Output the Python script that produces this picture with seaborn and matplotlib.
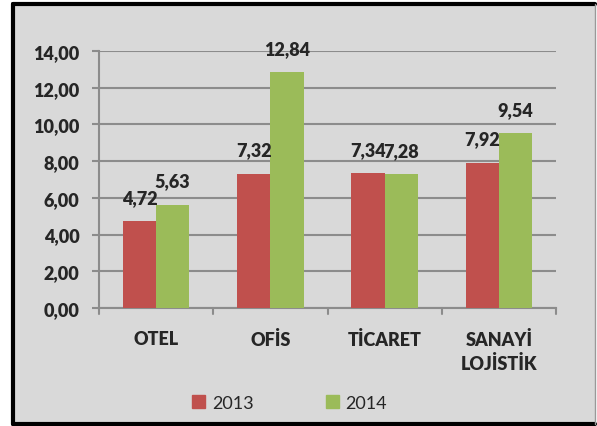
import pandas as pd
import matplotlib
matplotlib.use("Agg")
import matplotlib.pyplot as plt
import seaborn as sns
from matplotlib.patches import Rectangle
from matplotlib.lines import Line2D

# values
categories = ["OTEL", "OFİS", "TİCARET", "SANAYİ\nLOJİSTİK"]
years = ["2013", "2014"]
values_2013 = [4.72, 7.32, 7.34, 7.92]
values_2014 = [5.63, 12.84, 7.28, 9.54]
yticks = [0, 2, 4, 6, 8, 10, 12, 14]

df = pd.DataFrame({
    "kategori": categories * 2,
    "yil": [years[0]] * 4 + [years[1]] * 4,
    "deger": values_2013 + values_2014,
})

sns.set_style("white")
plt.rcParams["font.family"] = ["Lato", "DejaVu Sans"]

bg = "#D9D9D9"
grid_col = "#8C8C8C"
palette = {"2013": "#C0504D", "2014": "#9BBB59"}
fw = "heavy"

fig = plt.figure(figsize=(5.97, 4.27), dpi=100)
fig.patch.set_facecolor("white")

# outer frame like the excel chart area
fig.patches.append(Rectangle((13 / 597, 2 / 427), 582 / 597, 420 / 427,
                             transform=fig.transFigure, facecolor=bg,
                             edgecolor="none", zorder=-10))
x0, x1, y0, y1 = 13 / 597, 595 / 597, 1 - 425 / 427, 1 - 5 / 427
for xs, ys, c, lw in [([x0, x0], [y0, y1], "black", 3),
                      ([x0, x1], [y1, y1], "black", 3),
                      ([x0, x1], [y0, y0], "black", 3),
                      ([x1, x1], [y0, y1], "#999999", 1)]:
    fig.lines.append(Line2D(xs, ys, transform=fig.transFigure, color=c, lw=lw))

ax = fig.add_axes([99 / 597, 1 - 309 / 427, 457 / 597, 257 / 427])
ax.set_facecolor(bg)

sns.barplot(data=df, x="kategori", y="deger", hue="yil", palette=palette,
            width=0.58, gap=0, saturation=1, linewidth=0, ax=ax,
            legend=False, zorder=3)

ax.set_ylim(0, 14)
ax.set_yticks(yticks)
ax.set_yticklabels([f"{v:.2f}".replace(".", ",") for v in yticks],
                   fontsize=13, fontweight=fw)
ax.set_xlim(-0.5, 3.5)
ax.set_xticks(range(4))
ax.set_xticklabels(categories, fontsize=13, fontweight=fw,
                   linespacing=1.4, va="top")
ax.tick_params(axis="x", length=0, pad=16)
ax.tick_params(axis="y", length=5, width=1.5, color=grid_col, pad=9, left=True)
ax.set_xlabel("")
ax.set_ylabel("")

ax.grid(axis="y", color=grid_col, lw=1.5, zorder=0)
ax.set_axisbelow(True)
for s in ["top", "right"]:
    ax.spines[s].set_visible(False)
for s in ["left", "bottom"]:
    ax.spines[s].set_color(grid_col)
    ax.spines[s].set_linewidth(1.5)

# category separator ticks below the x axis
for xb in [-0.5, 0.5, 1.5, 2.5, 3.5]:
    ax.plot([xb, xb], [0, -0.35], color=grid_col, lw=1.5, clip_on=False)

for cont in ax.containers:
    for bar in cont:
        h = bar.get_height()
        ax.annotate(f"{h:.2f}".replace(".", ","),
                    (bar.get_x() + bar.get_width() / 2, h),
                    xytext=(0, 11), textcoords="offset points",
                    ha="center", va="bottom", fontsize=13, fontweight=fw,
                    zorder=5)

handles = [Rectangle((0, 0), 1, 1, color=palette[y]) for y in years]
fig.legend(handles, years, loc="center", bbox_to_anchor=(0.485, 1 - 404 / 427),
           ncol=2, frameon=False, fontsize=13, handlelength=0.75,
           handleheight=0.75, handletextpad=0.35, columnspacing=4.0)

fig.savefig("out.png", dpi=100, facecolor=fig.get_facecolor())
